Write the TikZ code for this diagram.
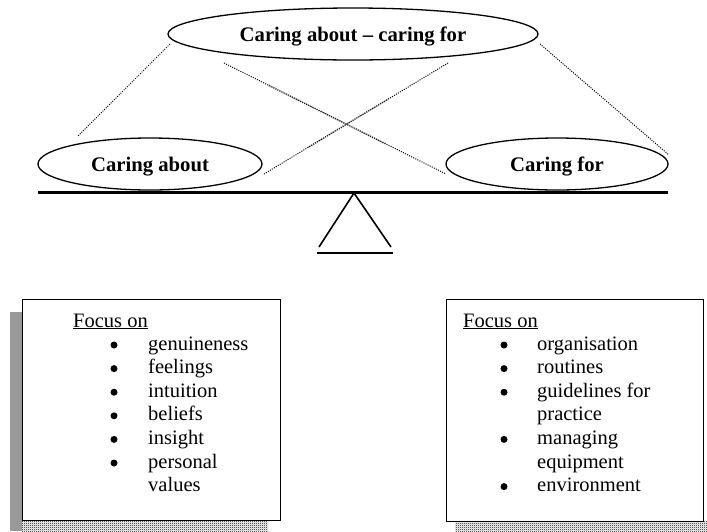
\documentclass[tikz,border=0pt]{standalone}
\usepackage{fontspec}
\setmainfont{Liberation Serif}
\usetikzlibrary{shapes.geometric,patterns}
\pgfdeclarepatternformonly{checker}{\pgfqpoint{0pt}{0pt}}{\pgfqpoint{2pt}{2pt}}{\pgfqpoint{2pt}{2pt}}{%
 \pgfpathrectangle{\pgfqpoint{0pt}{0pt}}{\pgfqpoint{1pt}{1pt}}%
 \pgfpathrectangle{\pgfqpoint{1pt}{1pt}}{\pgfqpoint{1pt}{1pt}}%
 \pgfusepath{fill}}
\begin{document}
\begin{tikzpicture}[x=1pt,y=-1pt,
  oval/.style={ellipse,draw,line width=1.3pt,inner sep=0pt,text height=16pt,text depth=2pt,
    font=\fontsize{20.7}{22}\selectfont\bfseries},
  dotline/.style={line width=1pt,dash pattern=on 1pt off 1.3pt},
  greyline/.style={line width=1.8pt,draw=black!35,dash pattern=on 1pt off 1pt},
  box/.style={draw,line width=1.4pt,fill=white,anchor=north west,inner sep=0pt},
  txt/.style={anchor=base west,inner sep=0pt,font=\fontsize{20.5}{22}\selectfont},
  bul/.style={circle,fill=black,inner sep=0pt,minimum size=7pt},
  shadowstrip/.style={fill=black!40},
  shadowdots/.style={pattern=checker,pattern color=black}]
\useasboundingbox (0,0) rectangle (707,531);

% ellipses
\node[oval,minimum width=370pt,minimum height=52pt] (top) at (353,34) {Caring about -- caring for};
\node[oval,minimum width=224pt,minimum height=52pt] (L) at (150,164) {Caring about};
\node[oval,minimum width=222pt,minimum height=52pt] (R) at (557,164) {Caring for};

% dotted connectors
\coordinate (o1) at (170,44);
\coordinate (o2) at (78,136);
\coordinate (o3) at (540,44);
\coordinate (o4) at (669,155);
\coordinate (c1) at (224,63);
\coordinate (c2) at (446,174);
\coordinate (c3) at (448,63);
\coordinate (c4) at (264,174);
\draw[dotline] (o1) -- (o2);
\draw[dotline] (o3) -- (o4);
\path (c1) -- (c2) coordinate[pos=0.2] (g1) coordinate[pos=0.73] (g2);
\path (c4) -- (c3) coordinate[pos=0.24] (g3) coordinate[pos=0.68] (g4);
\draw[greyline] (g1) -- (g2);
\draw[greyline] (g3) -- (g4);
\draw[dotline] (c1) -- (c2);
\draw[dotline] (c4) -- (c3);

% beam and fulcrum
\coordinate (b1) at (38,192);
\coordinate (b2) at (668,192);
\draw[line width=3pt] (b1) -- (b2);
\coordinate (apex) at (354,193);
\coordinate (f1) at (319,247);
\coordinate (f2) at (391,247);
\coordinate (s1) at (317,253);
\coordinate (s2) at (393,253);
\draw[line width=1.6pt] (f1) -- (apex) -- (f2);
\draw[line width=1.6pt] (s1) -- (s2);

% shadows
\fill[shadowstrip] (10,312) rectangle (22,531);
\fill[shadowdots] (22,521) rectangle (268,531);
\fill[shadowdots] (455,521) rectangle (707,531);

% boxes
\node[box,minimum width=258pt,minimum height=221pt] (lbox) at (22,299) {};
\node[box,minimum width=257pt,minimum height=222pt] (rbox) at (446,299) {};

% left text
\node[txt] (lf) at (73,327) {\underline{Focus on}};
\foreach \t/\b [count=\i] in {genuineness/1,feelings/1,intuition/1,beliefs/1,insight/1,personal/1,values/0}{
  \node[txt] (lt\i) at (148,{350+23.6*(\i-1)}) {\t};
  \ifnum\b=1 \node[bul] (lb\i) at (114,{345+23.6*(\i-1)}) {}; \fi
}
% right text
\node[txt] (rf) at (463,327) {\underline{Focus on}};
\foreach \t/\b [count=\i] in {organisation/1,routines/1,guidelines for/1,practice/0,managing/1,equipment/0,environment/1}{
  \node[txt] (rt\i) at (537,{350+23.6*(\i-1)}) {\t};
  \ifnum\b=1 \node[bul] (rb\i) at (504,{345+23.6*(\i-1)}) {}; \fi
}
\end{tikzpicture}
\end{document}
